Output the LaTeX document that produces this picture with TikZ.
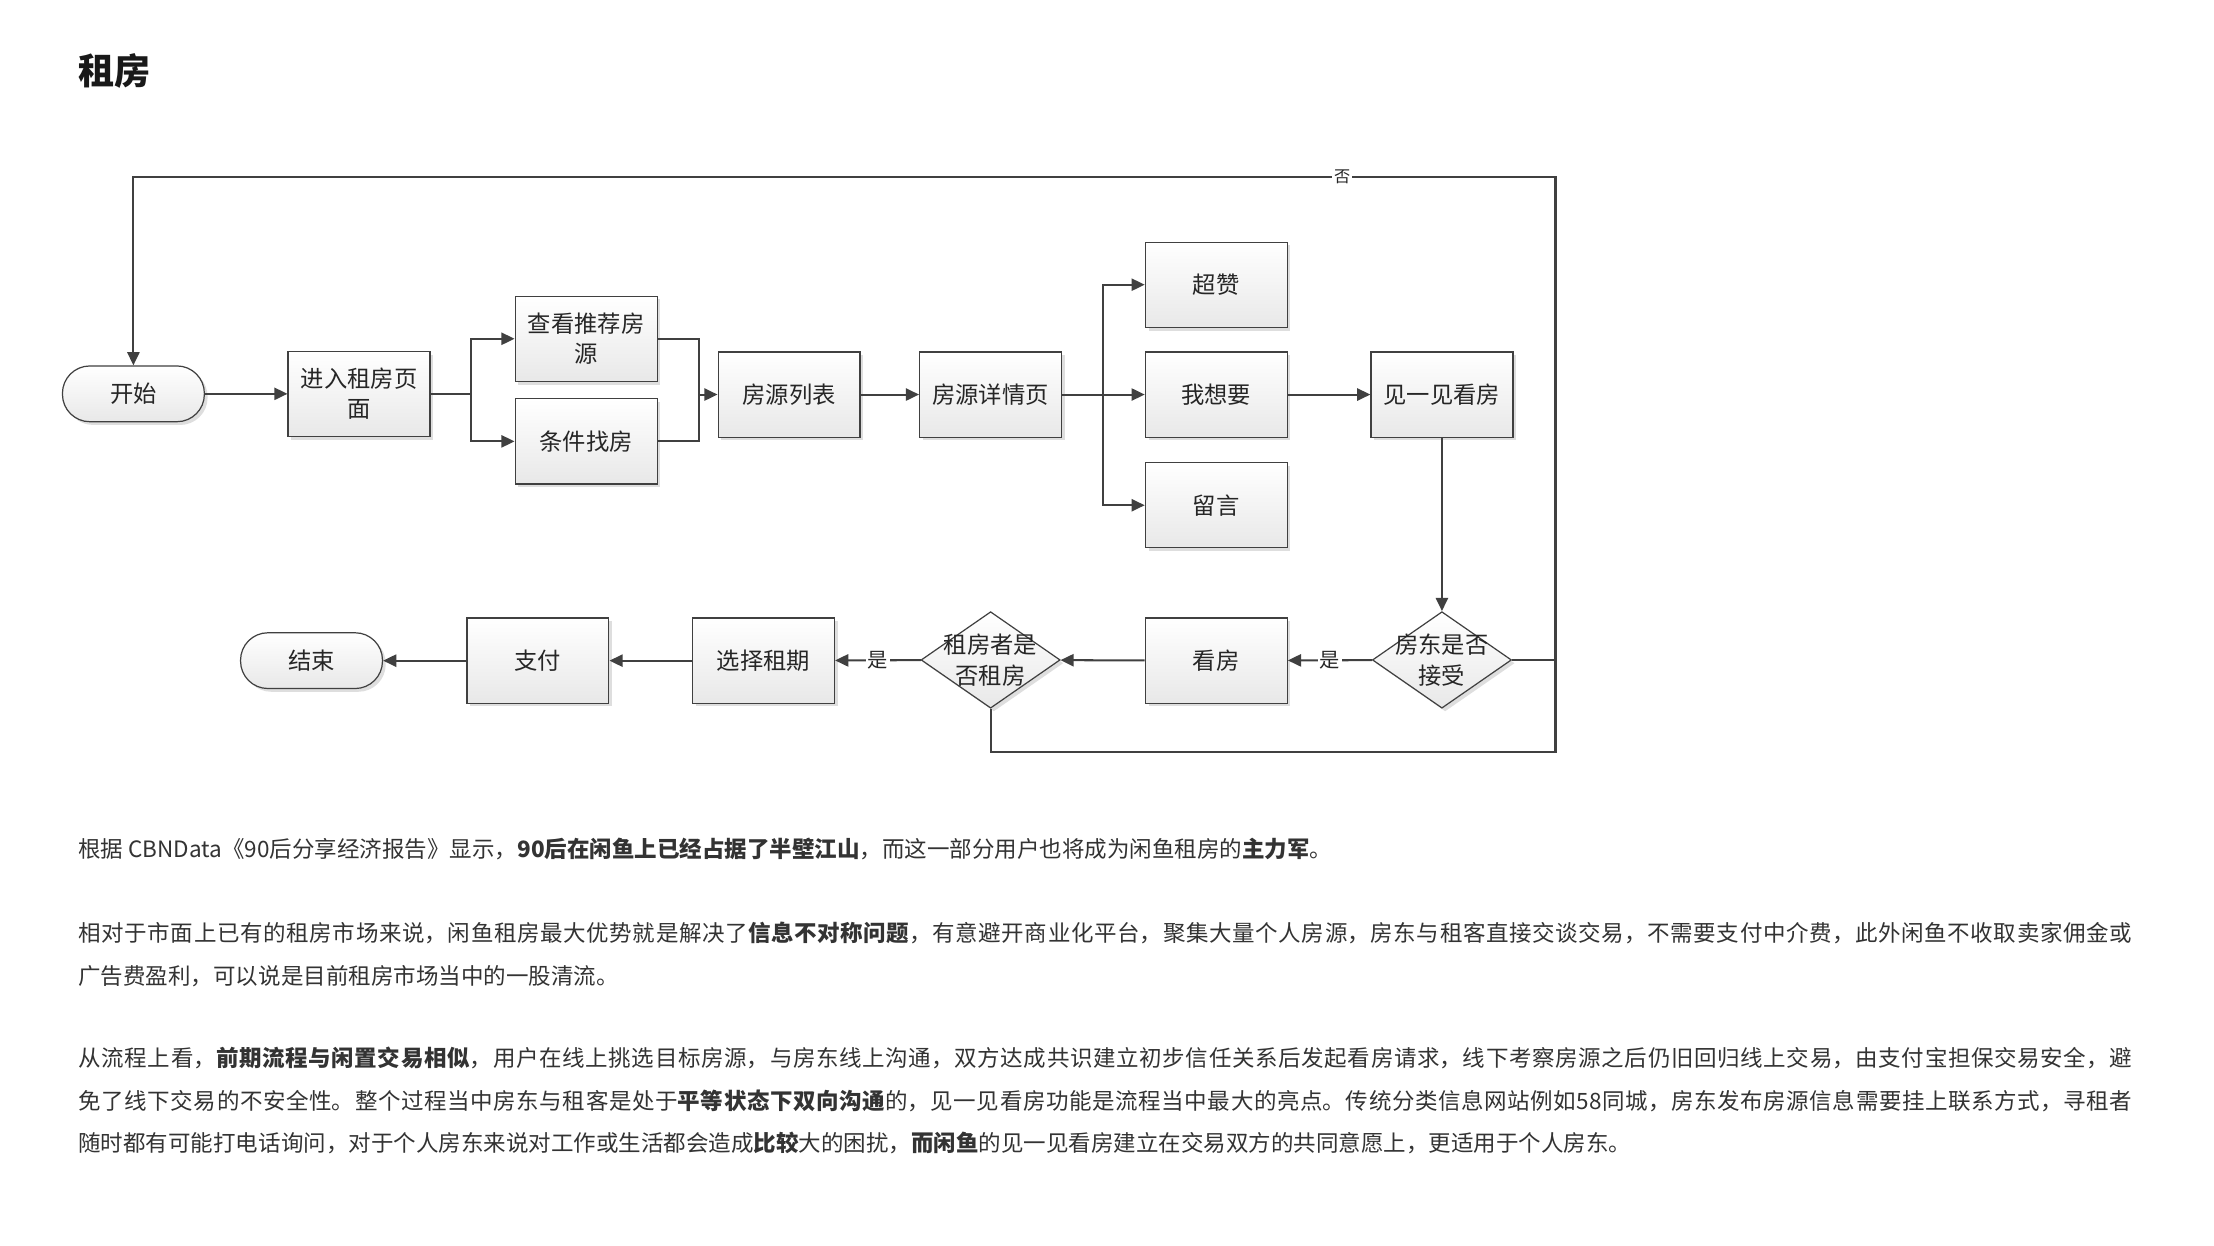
\documentclass[tikz,border=0pt]{standalone}
\usepackage{fontspec}
\setmainfont{Noto Sans CJK SC}
\usetikzlibrary{shapes.geometric}
\usetikzlibrary{shadows}
\usetikzlibrary{arrows.meta}
\XeTeXlinebreaklocale "zh"
\XeTeXlinebreakskip=0pt plus 1pt minus 0.2pt
\definecolor{lineGray}{HTML}{404040}
\definecolor{textGray}{HTML}{333333}

\begin{document}
\begin{tikzpicture}
[x=0.7pt,y=-0.7pt,%
  boxShade/.style={draw=lineGray,line width=0.6pt,top color=white,bottom color=black!9,%
    drop shadow={shadow xshift=1.6pt,shadow yshift=-1.6pt,fill=black!13,opacity=1}},%
  stepBox/.style={rectangle,boxShade,minimum width=70pt,minimum height=42pt,inner sep=1pt,%
    align=center,text=black!85,font=\fontsize{11.5pt}{15pt}\selectfont},%
  termNode/.style={stepBox,rounded corners=13.5pt,minimum height=27.5pt},%
  decisionNode/.style={diamond,boxShade,minimum width=68.6pt,minimum height=47.6pt,inner sep=0pt},%
  decisionText/.style={align=center,text=black!85,font=\fontsize{11.5pt}{15pt}\selectfont},%
  flowLine/.style={draw=lineGray,line width=1pt},%
  flowArrow/.style={flowLine,-{Triangle[length=6.5pt,width=6pt]}},%
  edgeLabel/.style={fill=white,inner sep=1pt,text=black!85,font=\fontsize{10pt}{12pt}\selectfont},%
  bodyText/.style={anchor=base west,inner sep=0pt,text width=1012.9pt,align=justify,text=textGray,%
    font=\fontsize{11.1pt}{21pt}\selectfont}]
\fill[white] (0,0) rectangle (1560,877.3);
\useasboundingbox (0,0) rectangle (1560,877.3);
%% title
\node[anchor=west,inner sep=0pt,text=black!90,font=\fontsize{17.8pt}{20pt}\selectfont\bfseries] (title) at (55,50.2) {租房};
%% start and end
\node[termNode] (start) at (94,277.5) {开始};
\node[termNode] (finish) at (219.5,465.5) {结束};
%% steps
\foreach \nodename/\x/\y/\caption in {
  enter/253/277.5/{进入租房页\\面}, recommend/413/238.7/{查看推荐房\\源},
  filter/413/311/{条件找房}, list/556/278/{房源列表}, detail/698/278/{房源详情页},
  praise/857/200.6/{超赞}, want/857/278/{我想要}, message/857/356/{留言},
  meet/1016/278/{见一见看房}, visit/857/465.5/{看房}, term/538/465.5/{选择租期},
  pay/379/465.5/{支付}}
{
  \node[stepBox] (\nodename) at (\x,\y) {\caption};
}
%% decisions
\node[decisionNode,label={[decisionText]center:房东是否\\接受}] (accept) at (1016,465) {};
\node[decisionNode,label={[decisionText]center:租房者是\\否租房}] (rent) at (698,465) {};
%% corner points
\coordinate (forkA) at (332,277.5);
\coordinate (joinA) at (492.5,278);
\coordinate (forkB) at (777,278);
\coordinate (loopTopR) at (1096,124.6);
\coordinate (loopTopL) at (94,124.6);
\coordinate (loopBottom) at (1096,529.7);
%% connectors
\draw[flowArrow] (start) -- (enter);
\draw[flowLine] (enter) -- (forkA);
\draw[flowArrow] (forkA) |- (recommend);
\draw[flowArrow] (forkA) |- (filter);
\draw[flowLine] (recommend) -| (joinA);
\draw[flowLine] (filter) -| (joinA);
\draw[flowArrow] (joinA) -- (list);
\draw[flowArrow] (list) -- (detail);
\draw[flowLine] (detail) -- (forkB);
\draw[flowArrow] (forkB) |- (praise);
\draw[flowArrow] (forkB) -- (want);
\draw[flowArrow] (forkB) |- (message);
\draw[flowArrow] (want) -- (meet);
\draw[flowArrow] (meet) -- (accept);
\draw[flowArrow] (accept) -- node[edgeLabel] {是} (visit);
\draw[flowArrow] (visit) -- (rent);
\draw[flowArrow] (rent) -- node[edgeLabel] {是} (term);
\draw[flowArrow] (term) -- (pay);
\draw[flowArrow] (pay) -- (finish);
\draw[flowArrow] (accept.east) -| (loopTopR) -- node[edgeLabel,pos=0.15,font=\fontsize{8pt}{9pt}\selectfont] {否} (loopTopL) -- (start);
\draw[flowLine] (rent.south) |- (loopBottom) -- (accept.east -| loopBottom);
%% text below
\node[bodyText] (para1) at (55,604.5) {根据 CBNData《90后分享经济报告》显示，{\bfseries 90后在闲鱼上已经占据了半壁江山}，而这一部分用户也将成为闲鱼租房的{\bfseries 主力军}。};
\node[bodyText] (para2) at (55,663.5) {相对于市面上已有的租房市场来说，闲鱼租房最大优势就是解决了{\bfseries 信息不对称问题}，有意避开商业化平台，聚集大量个人房源，房东与租客直接交谈交易，不需要支付中介费，此外闲鱼不收取卖家佣金或\linebreak 广告费盈利，可以说是目前租房市场当中的一股清流。};
\node[bodyText] (para3) at (55,751.5) {从流程上看，{\bfseries 前期流程与闲置交易相似}，用户在线上挑选目标房源，与房东线上沟通，双方达成共识建立初步信任关系后发起看房请求，线下考察房源之后仍旧回归线上交易，由支付宝担保交易安全，避\linebreak 免了线下交易的不安全性。整个过程当中房东与租客是处于{\bfseries 平等状态下双向沟通}的，见一见看房功能是流程当中最大的亮点。传统分类信息网站例如58同城，房东发布房源信息需要挂上联系方式，寻租者\linebreak 随时都有可能打电话询问，对于个人房东来说对工作或生活都会造成{\bfseries 比较}大的困扰，{\bfseries 而闲鱼}的见一见看房建立在交易双方的共同意愿上，更适用于个人房东。};
\end{tikzpicture}
\end{document}
